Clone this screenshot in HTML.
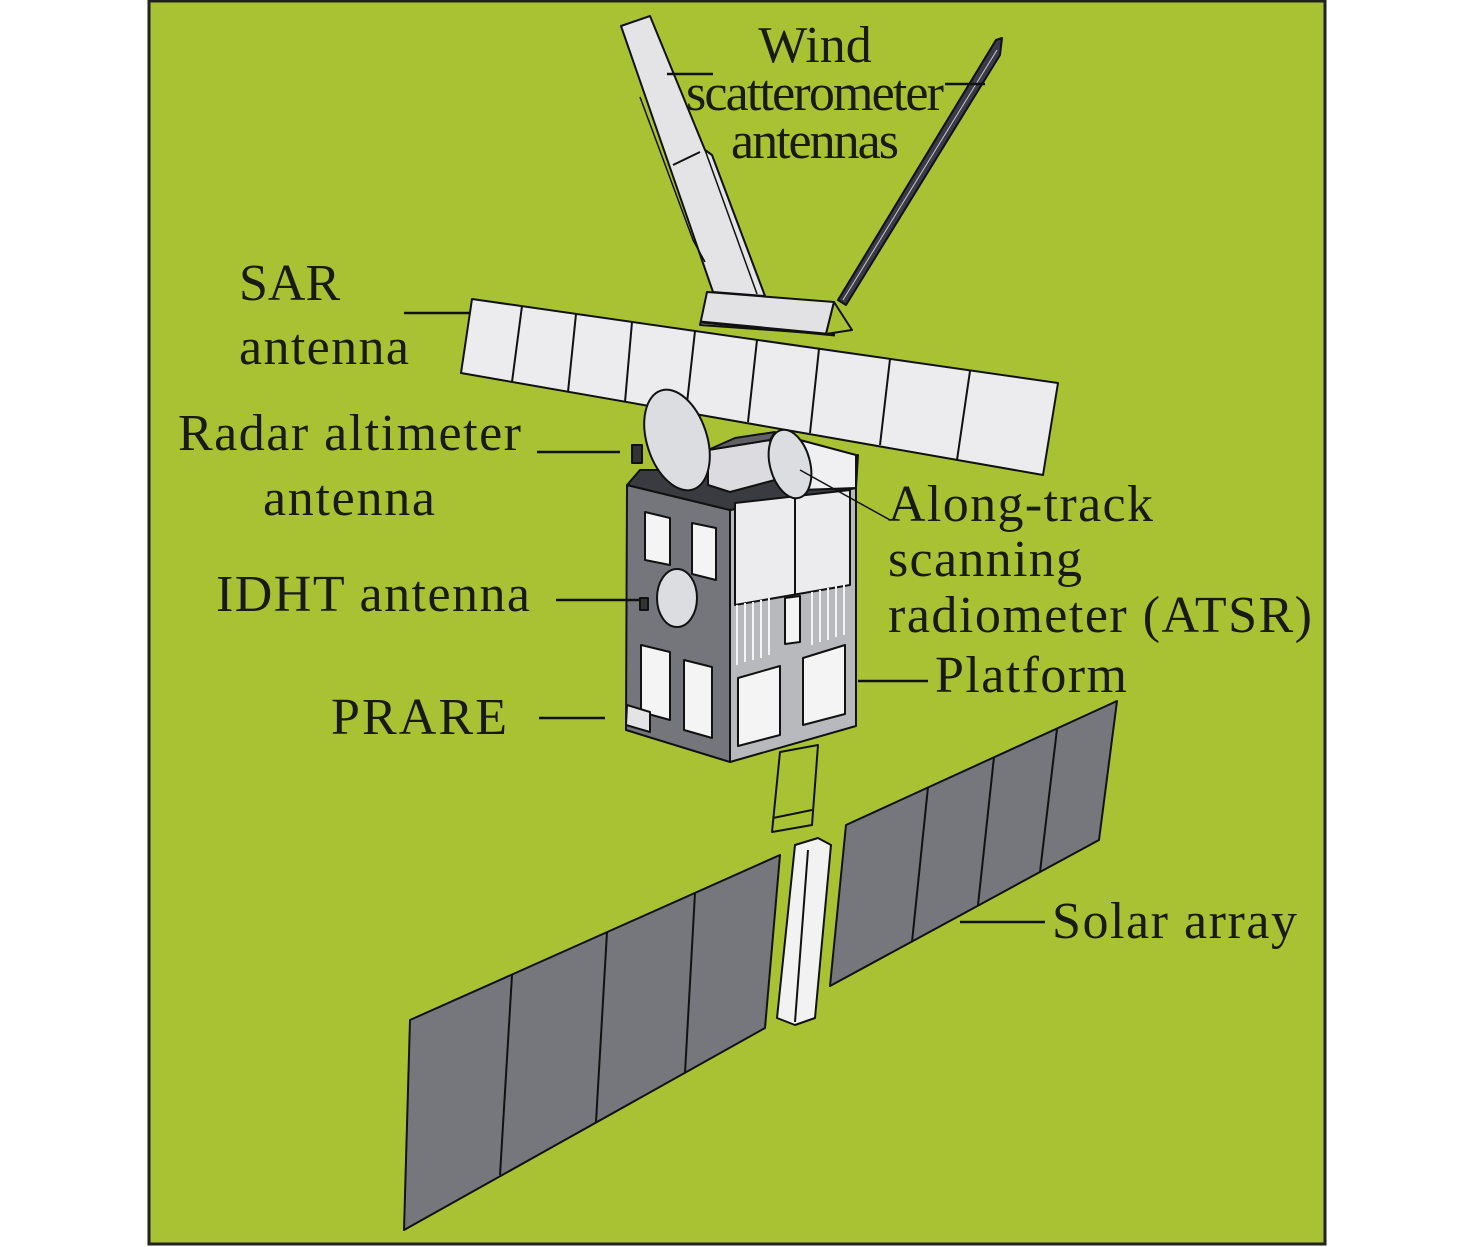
<!DOCTYPE html>
<html><head><meta charset="utf-8"><style>
html,body{margin:0;padding:0;background:#fff;}
svg{display:block;}
text{font-family:"Liberation Serif",serif;font-size:52px;fill:#1a1a14;}
</style></head><body>
<svg width="1476" height="1247" viewBox="0 0 1476 1247" xmlns="http://www.w3.org/2000/svg">
<rect x="149" y="1" width="1176" height="1243" fill="#a9c234" stroke="#222" stroke-width="3"/>
<g stroke="#111" stroke-width="2" stroke-linejoin="round">
<!-- left wind antenna -->
<polygon points="621,26 650,16 705,150 712,155 765,296 713,292" fill="#e4e4e6"/>
<line x1="673" y1="165" x2="700" y2="152"/>
<polyline points="640,97 693,240 705,262" fill="none" stroke-width="1.5"/>
<polyline points="705,150 712,155 765,296" fill="none" stroke-width="1.5"/>
<line x1="705" y1="150" x2="757" y2="294" stroke-width="1.5"/>
<!-- right wind antenna -->
<polygon points="996,40 1002,38 1000,55 846,305 838,300" fill="#3a3a48"/>
<line x1="997" y1="50" x2="843" y2="300" stroke="#ccc" stroke-width="1"/>
<!-- base -->
<polygon points="707,292 834,302 826,334 700,325" fill="#e2e2e4"/>
<polygon points="834,302 852,330 826,334" fill="#a9c234"/>
<!-- SAR antenna -->
<polygon points="472,299 1058,383 1043,475 461,373" fill="#ececee"/>
<g fill="none">
<line x1="522" y1="306" x2="512" y2="382"/>
<line x1="576" y1="314" x2="568" y2="392"/>
<line x1="632" y1="322" x2="625" y2="402"/>
<line x1="695" y1="331" x2="686" y2="412"/>
<line x1="757" y1="340" x2="748" y2="422"/>
<line x1="819" y1="349" x2="810" y2="433"/>
<line x1="890" y1="359" x2="880" y2="445"/>
<line x1="970" y1="371" x2="957" y2="460"/>
<line x1="700" y1="322" x2="835" y2="335" stroke-width="3"/>
</g>
<!-- body -->
<polygon points="627,485 730,510 730,762 626,730" fill="#75767c"/>
<polygon points="730,510 856,488 856,726 730,762" fill="#b8b9bd"/>
<polygon points="640,470 735,470 858,455 856,488 730,510 627,485" fill="#3a3b40"/>
<polygon points="800,440 856,455 856,488 800,490" fill="#f0f0f2"/>
<polygon points="735,503 850,490 850,585 735,605" fill="#ececee"/>
<line x1="795" y1="497" x2="795" y2="595"/>
<polygon points="708,450 770,440 775,480 730,492 708,485" fill="#dcdce0"/>
<polygon points="708,450 735,438 775,432 770,440" fill="#606066"/>
<!-- dishes -->
<ellipse cx="677" cy="440" rx="30" ry="52" transform="rotate(-18 677 440)" fill="#dcdde0"/>
<ellipse cx="790" cy="464" rx="20" ry="35" transform="rotate(-15 790 464)" fill="#dcdde0"/>
<rect x="632" y="445" width="10" height="18" fill="#333"/>
<!-- left face windows -->
<polygon points="645,512 670,518 670,565 645,560" fill="#f4f4f4"/>
<polygon points="692,523 716,528 716,580 692,574" fill="#f4f4f4"/>
<polygon points="641,645 670,652 670,720 641,712" fill="#f4f4f4"/>
<polygon points="684,660 712,667 712,738 684,730" fill="#f4f4f4"/>
<ellipse cx="677" cy="598" rx="20" ry="29" fill="#dcdde0"/>
<rect x="640" y="598" width="8" height="12" fill="#333"/>
<polygon points="627,705 650,712 650,732 626,725" fill="#e4e4e6"/>
<!-- right face windows -->
<polygon points="785,598 800,596 800,642 785,644" fill="#f4f4f4"/>
<polygon points="738,678 780,666 780,735 738,746" fill="#f4f4f4"/>
<polygon points="803,658 845,645 845,714 803,725" fill="#f4f4f4"/>
</g>
<g stroke="#f4f4f4" stroke-width="2">
<line x1="737" y1="605" x2="737" y2="665"/><line x1="745" y1="603" x2="745" y2="662"/><line x1="753" y1="602" x2="753" y2="660"/><line x1="761" y1="600" x2="761" y2="658"/><line x1="769" y1="598" x2="769" y2="655"/>
<line x1="812" y1="592" x2="812" y2="645"/><line x1="820" y1="590" x2="820" y2="642"/><line x1="828" y1="588" x2="828" y2="640"/><line x1="836" y1="586" x2="836" y2="637"/><line x1="844" y1="584" x2="844" y2="635"/>
</g>
<g stroke="#111" stroke-width="2" stroke-linejoin="round">
<!-- mast -->
<polygon points="780,752 818,745 812,825 772,832" fill="none"/>
<line x1="773" y1="818" x2="812" y2="810"/>
<!-- solar panels -->
<polygon points="410,1020 780,855 765,1028 404,1230" fill="#76777d"/>
<line x1="512" y1="975" x2="500" y2="1175"/>
<line x1="607" y1="932" x2="596" y2="1122"/>
<line x1="695" y1="893" x2="685" y2="1073"/>
<polygon points="846,825 1117,701 1099,840 830,986" fill="#76777d"/>
<line x1="928" y1="787" x2="912" y2="942"/>
<line x1="994" y1="757" x2="978" y2="905"/>
<line x1="1057" y1="729" x2="1040" y2="872"/>
<!-- white boom -->
<polygon points="795,845 818,838 831,845 815,1018 795,1025 777,1018" fill="#f2f2f2"/>
<line x1="808" y1="850" x2="795" y2="1022"/>
</g>
<!-- leader lines -->
<g stroke="#111" stroke-width="2.5">
<line x1="667" y1="74" x2="713" y2="74"/>
<line x1="945" y1="84" x2="985" y2="84"/>
<line x1="404" y1="313" x2="470" y2="313"/>
<line x1="537" y1="452" x2="620" y2="452"/>
<line x1="556" y1="600" x2="640" y2="600"/>
<line x1="539" y1="718" x2="605" y2="718"/>
<line x1="858" y1="681" x2="928" y2="681"/>
<line x1="960" y1="922" x2="1045" y2="922"/>
<line x1="800" y1="470" x2="890" y2="520" stroke-width="1.5"/>
</g>
<!-- labels -->
<text x="815" y="62" text-anchor="middle" font-size="44">Wind</text>
<text x="815" y="110" text-anchor="middle" font-size="44" textLength="258">scatterometer</text>
<text x="815" y="158" text-anchor="middle" font-size="44" textLength="168">antennas</text>
<text x="239" y="300" font-size="54">SAR</text>
<text x="239" y="364" font-size="54" textLength="170">antenna</text>
<text x="178" y="450" font-size="54" textLength="343">Radar altimeter</text>
<text x="263" y="515" font-size="54" textLength="172">antenna</text>
<text x="216" y="611" font-size="54" textLength="314">IDHT antenna</text>
<text x="331" y="734" font-size="54" textLength="176">PRARE</text>
<text x="888" y="521" font-size="54" textLength="265">Along-track</text>
<text x="888" y="576" font-size="54" textLength="194">scanning</text>
<text x="888" y="632" font-size="54" textLength="424">radiometer (ATSR)</text>
<text x="935" y="692" font-size="54" textLength="192">Platform</text>
<text x="1052" y="938" font-size="54" textLength="245">Solar array</text>
</svg>
</body></html>
